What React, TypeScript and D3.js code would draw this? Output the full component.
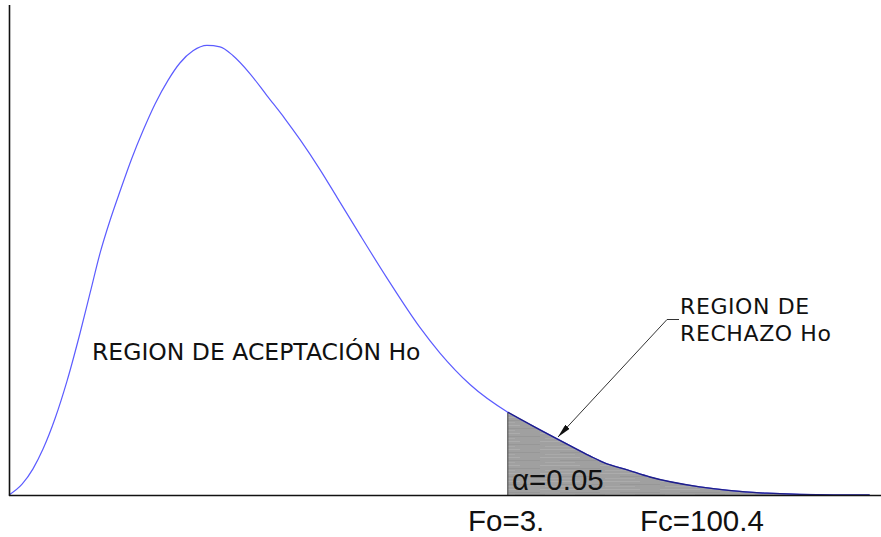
import React from "react";
import * as d3 from "d3";

// Curve (F distribution sketch), abstract units
const curveX = [0, 1.5, 2.75, 3.9, 5.3, 6.65, 8.15, 9.3, 10.45, 11.6, 12.75, 14.1, 15.4, 16.75, 18.25, 19.6, 21.1, 22.7, 24.2, 25.7, 27.65, 29.6, 31.65, 33.4, 35.7, 37.6, 40.25, 43.35, 47.1, 49.4, 52.9, 57.2, 60.1, 64, 66.6, 68.35, 70.9, 73.5, 79.2, 86.9, 94.5, 98.7];
const curveY = [0, 0.024, 0.058, 0.102, 0.171, 0.253, 0.36, 0.449, 0.538, 0.611, 0.676, 0.749, 0.811, 0.869, 0.922, 0.96, 0.987, 0.999, 0.996, 0.976, 0.936, 0.887, 0.836, 0.789, 0.722, 0.662, 0.578, 0.482, 0.373, 0.316, 0.245, 0.184, 0.153, 0.113, 0.087, 0.071, 0.056, 0.04, 0.018, 0.004, 0, 0];
const foValue = 57.2; // position of Fo on the abstract axis

const labelAccept = "REGION DE ACEPTACIÓN Ho";
const labelReject = ["REGION DE", "RECHAZO Ho"];
const labelAlpha = "α=0.05";
const labelFo = "Fo=3.";
const labelFc = "Fc=100.4";

const W = 881;
const H = 537;

export default function App() {
  const x = d3.scaleLinear().domain([0, 100]).range([9, 881]);
  const y = d3.scaleLinear().domain([0, 1]).range([495, 45]);
  const pts = curveX.map((v, i) => ({ x: v, y: curveY[i] }));
  const line = d3
    .line<{ x: number; y: number }>()
    .x((d) => x(d.x))
    .y((d) => y(d.y))
    .curve(d3.curveMonotoneX);
  const tail = pts.filter((d) => d.x >= foValue);
  const area = d3
    .area<{ x: number; y: number }>()
    .x((d) => x(d.x))
    .y0(y(0))
    .y1((d) => y(d.y))
    .curve(d3.curveMonotoneX);

  const fo = x(foValue);

  return (
    <svg
      width={W}
      height={H}
      style={{ position: "absolute", left: 0, top: 0, background: "#fff" }}
    >
      <defs>
        <pattern id="streak" width="60" height="8" patternUnits="userSpaceOnUse">
          <rect width="60" height="8" fill="#a0a0a0" />
          <rect y="1" width="40" height="1" fill="#acacac" />
          <rect x="20" y="4" width="40" height="1" fill="#979797" />
          <rect x="5" y="6" width="30" height="1" fill="#a9a9a9" />
        </pattern>
        <marker
          id="arrow"
          viewBox="0 0 14 6"
          refX="14"
          refY="3"
          markerWidth="14"
          markerHeight="6"
          markerUnits="userSpaceOnUse"
          orient="auto"
        >
          <path d="M0,0 L14,3 L0,6 Z" fill="#111" />
        </marker>
      </defs>

      {/* shaded rejection region */}
      <path d={area(tail) ?? ""} fill="url(#streak)" />
      <line x1={fo} x2={fo} y1={y(0)} y2={y(tail[0].y)} stroke="#555" strokeWidth={1.2} />

      {/* curve */}
      <path d={line(pts) ?? ""} fill="none" stroke="#5c5cff" strokeWidth={1.2} />
      <path d={line(tail) ?? ""} fill="none" stroke="#1f1f85" strokeWidth={1.3} />

      {/* axes */}
      <line x1={9.5} x2={9.5} y1={5} y2={496} stroke="#111" strokeWidth={1.6} />
      <line x1={9} x2={881} y1={495.5} y2={495.5} stroke="#111" strokeWidth={1.6} />

      {/* leader arrow */}
      <polyline
        points="679,319.5 667,319.5 558,437"
        fill="none"
        stroke="#333"
        strokeWidth={1}
        markerEnd="url(#arrow)"
      />

      <g fontFamily="DejaVu Sans" fontSize={23.5} fill="#111">
        <text x={92} y={360}>{labelAccept}</text>
      </g>
      <g fontFamily="DejaVu Sans" fontSize={22} letterSpacing={0.6} fill="#111">
        <text x={680} y={314}>{labelReject[0]}</text>
        <text x={680} y={340.5}>{labelReject[1]}</text>
      </g>
      <g fontFamily="Liberation Sans, Arial" fontSize={29.5} fill="#111">
        <text x={512} y={490}>{labelAlpha}</text>
        <text x={468} y={531}>{labelFo}</text>
        <text x={640} y={531}>{labelFc}</text>
      </g>
    </svg>
  );
}
